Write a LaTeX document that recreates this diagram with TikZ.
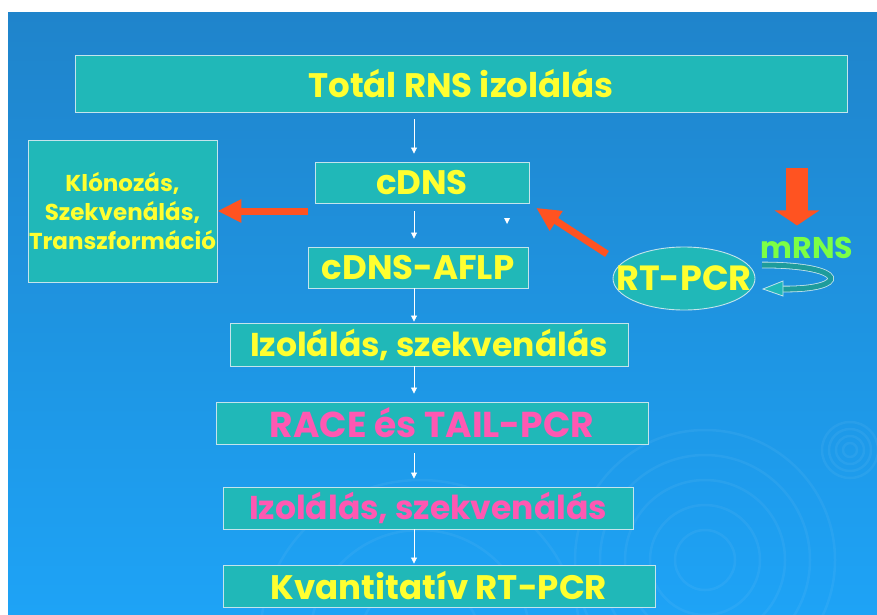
\documentclass[tikz,border=0pt]{standalone}
\usepackage{fontspec}
\setmainfont{Poppins}
\usetikzlibrary{arrows.meta,positioning,calc,shapes.geometric}
\definecolor{bgtop}{HTML}{1F84CB}
\definecolor{bgbot}{HTML}{1EA3F6}
\definecolor{boxfill}{HTML}{20B8B8}
\definecolor{boxline}{HTML}{C4E4EC}
\definecolor{yel}{HTML}{FFFF30}
\definecolor{pnk}{HTML}{FF58B2}
\definecolor{grn}{HTML}{7CFF45}
\definecolor{orng}{HTML}{FF5321}
\definecolor{ribdark}{HTML}{1E9C9C}

\begin{document}
\begin{tikzpicture}[
  x=1pt,y=-1pt,
  box/.style={draw=boxline,fill=boxfill,line width=.9pt,inner sep=0pt,
              text=yel,font=\bfseries\fontsize{34}{40}\selectfont},
  flow/.style={draw=white,line width=.8pt,-{Triangle[length=6pt,width=6pt]}},
  push/.style={draw=orng,line width=7pt,-{Triangle[length=24pt,width=22pt]}},
  ripple/.style={draw=white,opacity=.05,line width=2.5pt}
]
\useasboundingbox (0,0) rectangle (877,614);
\fill[white] (0,0) rectangle (877,614);
\shade[top color=bgtop,bottom color=bgbot] (8,12) rectangle (877,614);

% faint rings in the background
\foreach \r in {7,14,21,28} \draw[ripple] (850,450) circle (\r);
\foreach \r in {30,55,80,105,130} \draw[ripple] (705,560) circle (\r);
\foreach \r in {60,110,160} \draw[ripple] (420,640) circle (\r);

% main column
\node[box,minimum width=772,minimum height=57] (total) at (461,83.5) {Totál RNS izolálás};
\node[box,minimum width=214,minimum height=41] (cdns) at (422,182.5) {cDNS};
\node[box,minimum width=220,minimum height=41] (aflp) at (418,267.5) {cDNS-AFLP};
\node[box,minimum width=398,minimum height=43,
      font=\bfseries\fontsize{33}{40}\selectfont] (izol) at (429,344.5) {Izolálás, szekvenálás};
\node[box,minimum width=432,minimum height=42,text=pnk,
      font=\bfseries\fontsize{36}{40}\selectfont] (race) at (432,423) {RACE és TAIL-PCR};
\node[box,minimum width=410,minimum height=42,text=pnk,
      font=\bfseries\fontsize{33}{40}\selectfont] (szek) at (428,508) {Izolálás, szekvenálás};
\node[box,minimum width=432,minimum height=42] (kvant) at (439,586) {Kvantitatív RT-PCR};

% side branch
\node[box,minimum width=189,minimum height=142,align=center,
      font=\bfseries\fontsize{23}{29}\selectfont] (klon) at (122.5,211)
      {Klónozás,\\Szekvenálás,\\Transzformáció};
\node[box,ellipse,minimum width=142,minimum height=63,
      font=\bfseries\fontsize{35}{40}\selectfont] (rtpcr) at (684,278.5) {\makebox[0pt]{RT-PCR}};
\node[inner sep=0pt,anchor=base,text=grn,
      font=\bfseries\fontsize{30}{36}\selectfont] (mrns) at (807,258) {mRNS};

\coordinate (col) at (414,0);
\draw[flow,shorten <=7pt,shorten >=8pt] (total.south -| col) -- (cdns.north -| col);
\draw[flow,shorten <=8pt,shorten >=8pt] (cdns.south -| col) -- (aflp.north -| col);
\draw[flow,shorten >=1pt] (aflp.south -| col) -- (izol.north -| col);
\draw[flow,shorten >=8pt] (izol.south -| col) -- (race.north -| col);
\draw[flow,shorten <=9pt,shorten >=8pt] (race.south -| col) -- (szek.north -| col);
\draw[flow,shorten >=1pt] (szek.south -| col) -- (kvant.north -| col);
\fill[white] (504,218) -- (510,218) -- (507,224) -- cycle;

% orange arrows
\coordinate (ltail) at (308,211);
\coordinate (rtail) at (607,254);
\coordinate (drop) at (797,168);
\draw[push] (ltail) -- (klon.east);
\draw[push,shorten >=8pt] (rtail) -- (cdns.south east);
\draw[draw=orng,line width=22pt,-{Triangle[length=15pt,width=44pt]},shorten >=11pt]
  (drop) -- (drop |- mrns.north);

% turning ribbon below mRNS
\draw[draw=boxline,line width=.8pt,double=ribdark,double distance=5pt]
  (762,265) .. controls (850,265) and (850,290) .. (782,289);
\filldraw[fill=boxfill,draw=boxline,line width=.8pt]
  (783,281) -- (763,289) -- (783,296) -- cycle;
\end{tikzpicture}
\end{document}
